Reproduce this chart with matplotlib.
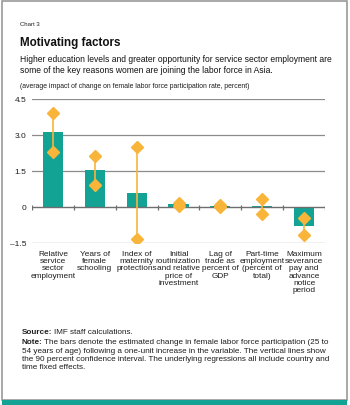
"""Chart 3: Motivating factors (female labor force participation)."""
import matplotlib
matplotlib.use("Agg")
import matplotlib.pyplot as plt
from matplotlib import font_manager
from matplotlib.patches import Rectangle
import numpy as np

names = {f.name for f in font_manager.fontManager.ttflist}
FONT = "Liberation Sans Narrow" if "Liberation Sans Narrow" in names else "Liberation Sans"
plt.rcParams["font.family"] = [FONT, "DejaVu Sans"]

categories = [
    "Relative\nservice\nsector\nemployment",
    "Years of\nfemale\nschooling",
    "Index of\nmaternity\nprotections",
    "Initial\nroutinization\nand relative\nprice of\ninvestment",
    "Lag of\ntrade as\npercent of\nGDP",
    "Part-time\nemployment\n(percent of\ntotal)",
    "Maximum\nseverance\npay and\nadvance\nnotice\nperiod",
]
impact = [3.12, 1.54, 0.58, 0.11, 0.04, 0.04, -0.81]
ci_upper = [3.92, 2.14, 2.49, 0.15, 0.07, 0.33, -0.46]
ci_lower = [2.30, 0.92, -1.33, 0.03, 0.00, -0.29, -1.17]
yticks = [-1.5, 0, 1.5, 3.0, 4.5]
ytick_labels = ["\u20131.5", "0", "1.5", "3.0", "4.5"]

NOTE_FIRST = "The bars denote the estimated change in female labor force participation (25 to"
NOTE_REST = ("54 years of age) following a one-unit increase in the variable. The vertical lines show\n"
             "the 90 percent confidence interval. The underlying regressions all include country and\n"
             "time fixed effects.")

TEAL = "#12a394"
ORANGE = "#f9b43a"
TXT = "#1e1e1e"

W, H = 350, 406
fig = plt.figure(figsize=(W / 100, H / 100), dpi=100)
renderer = fig.canvas.get_renderer()


def fit(t, width_px):
    """Scale a text's font size so its widest line spans width_px."""
    w = t.get_window_extent(renderer).width
    t.set_fontsize(t.get_fontsize() * width_px / w)
    return t


def px(x, y):
    return x / W, 1 - y / H


# frame and bottom stripe
fig.patches.append(Rectangle((2 / W, 5 / H), 345 / W, 399 / H, transform=fig.transFigure,
                             fill=False, edgecolor="#9a9a9a", linewidth=1.2))
fig.patches.append(Rectangle((2 / W, 0), 345 / W, 5 / H, transform=fig.transFigure,
                             facecolor=TEAL, edgecolor="none"))

ax = fig.add_axes([32 / W, 1 - 244 / H, 293 / W, 144 / H])
x = np.arange(len(categories))

for y in yticks:
    if y != 0:
        ax.axhline(y, color="#8c8c8c", linewidth=0.9, zorder=0)

ax.bar(x, impact, width=0.48, color=TEAL, zorder=2)
ax.axhline(0, color="#6e6e6e", linewidth=1.0, zorder=3)
ax.vlines(np.arange(len(categories) + 1) - 0.5, -0.12, 0.08, color="#6e6e6e", linewidth=0.9, zorder=3)
ax.vlines(x, ci_lower, ci_upper, color=ORANGE, linewidth=1.2, zorder=4)
ax.plot(x, ci_upper, "D", color=ORANGE, markersize=5.8, linestyle="none", zorder=5)
ax.plot(x, ci_lower, "D", color=ORANGE, markersize=5.8, linestyle="none", zorder=5)

ax.set_xlim(-0.5, len(categories) - 0.5)
ax.set_ylim(-1.5, 4.5)
ax.set_yticks(yticks)
ax.set_yticklabels(ytick_labels, color=TXT, fontsize=6)
ax.set_xticks(x)
ax.set_xticklabels(categories, linespacing=1.05, color=TXT)
ax.tick_params(axis="both", length=0)
ax.tick_params(axis="x", pad=5)
ax.tick_params(axis="y", pad=4)
for s in ax.spines.values():
    s.set_visible(False)
ax.set_facecolor("none")

# size category labels so "routinization" is ~45 px wide
probe = fit(fig.text(0, 0, "routinization"), 45)
cat_size = probe.get_fontsize()
probe.remove()
for lab in ax.get_xticklabels():
    lab.set_fontsize(cat_size)

# header text
fit(fig.text(*px(20, 25), "Chart 3", va="center", color=TXT), 20)
fit(fig.text(*px(20, 43), "Motivating factors", fontweight="bold", va="center", color="#111111"), 100)
fit(fig.text(*px(20, 65),
             "Higher education levels and greater opportunity for service sector employment are\n"
             "some of the key reasons women are joining the labor force in Asia.",
             va="center", linespacing=1.25, color="#111111"), 312)
fit(fig.text(*px(20, 86),
             "(average impact of change on female labor force participation rate, percent)",
             va="center", color=TXT), 232)

# footer text: size so the widest note line spans ~312 px
probe = fit(fig.text(0, 0, "Note:  " + NOTE_FIRST + "\n" + NOTE_REST), 312)
foot_size = probe.get_fontsize()
probe.remove()


def lead_line(y, head, rest):
    h = fig.text(*px(22, y), head, fontweight="bold", fontsize=foot_size, va="center", color=TXT)
    hw = h.get_window_extent(renderer).width
    fig.text(*px(22 + hw + 1.5, y), rest, fontsize=foot_size, va="center", color=TXT)


lead_line(333, "Source:", "IMF staff calculations.")
lead_line(343, "Note:", NOTE_FIRST)
fig.text(*px(22, 348), NOTE_REST, fontsize=foot_size, va="top", linespacing=1.25, color=TXT)

fig.savefig("out.png", dpi=100)
